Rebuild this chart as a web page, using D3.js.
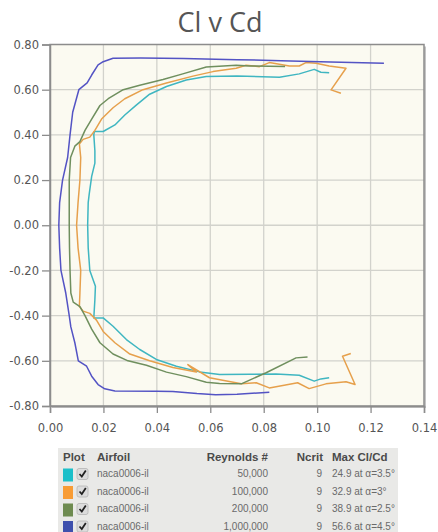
<!DOCTYPE html>
<html lang="en">
  <head>
    <meta charset="utf-8" />
    <style>
      body { margin: 0; background: #fff; }
      svg { display: block; }
    </style>
    <script src="https://d3js.org/d3.v7.min.js"></script>
  </head>
  <body>
    <svg width="438" height="532"></svg>
    <script>
      // polars, each listed from the negative-alpha tail round to the positive one
      const re50k = [
        [0.1045, -0.675], [0.1014, -0.68], [0.0989, -0.69], [0.0933, -0.664], [0.0846, -0.658],
        [0.075, -0.66], [0.0635, -0.661], [0.056, -0.649], [0.0473, -0.624], [0.0398, -0.594],
        [0.0336, -0.55], [0.0286, -0.506], [0.0236, -0.447], [0.0199, -0.41], [0.0164, -0.41],
        [0.0168, -0.33], [0.017, -0.27], [0.0149, -0.2], [0.0143, -0.1], [0.0141, 0],
        [0.0143, 0.1], [0.0147, 0.14], [0.0156, 0.216], [0.0168, 0.275], [0.0168, 0.33],
        [0.0164, 0.4], [0.0166, 0.415], [0.0199, 0.415], [0.0243, 0.444], [0.028, 0.488],
        [0.0324, 0.533], [0.0373, 0.58], [0.0436, 0.614], [0.051, 0.643], [0.0585, 0.658],
        [0.07, 0.661], [0.0859, 0.655], [0.0933, 0.67], [0.0989, 0.69], [0.1014, 0.677], [0.1045, 0.675]
      ];
      const re100k = [
        [0.1126, -0.568], [0.1095, -0.58], [0.1142, -0.705], [0.1108, -0.693], [0.1033, -0.702],
        [0.097, -0.723], [0.0927, -0.697], [0.0821, -0.72], [0.0772, -0.697], [0.0716, -0.702],
        [0.0597, -0.675], [0.0516, -0.617], [0.0548, -0.65], [0.046, -0.63], [0.0373, -0.6],
        [0.0299, -0.57], [0.0243, -0.52], [0.0199, -0.47], [0.0174, -0.42], [0.0149, -0.39],
        [0.0124, -0.38], [0.011, -0.36], [0.0112, -0.3], [0.0115, -0.2], [0.0105, -0.1], [0.00995, 0],
        [0.0105, 0.1], [0.0112, 0.2], [0.0115, 0.3], [0.011, 0.36], [0.0124, 0.38], [0.0149, 0.39],
        [0.0168, 0.42], [0.0193, 0.47], [0.0236, 0.52], [0.028, 0.56], [0.0348, 0.6], [0.0436, 0.63],
        [0.0535, 0.66], [0.061, 0.68], [0.0697, 0.695], [0.0734, 0.708], [0.0784, 0.702], [0.0821, 0.72],
        [0.0896, 0.705], [0.0933, 0.705], [0.0958, 0.72], [0.0996, 0.717], [0.1045, 0.705],
        [0.1108, 0.695], [0.1052, 0.599], [0.1089, 0.584]
      ];
      const re200k = [
        [0.0964, -0.583], [0.0921, -0.587], [0.0809, -0.653], [0.0716, -0.702], [0.0635, -0.7],
        [0.0585, -0.695], [0.051, -0.67], [0.0436, -0.65], [0.0361, -0.62], [0.0292, -0.6],
        [0.0236, -0.57], [0.0187, -0.52], [0.0156, -0.46], [0.0131, -0.4], [0.0112, -0.36],
        [0.0087, -0.34], [0.0078, -0.3], [0.0075, -0.2], [0.0073, -0.1], [0.0072, 0],
        [0.0072, 0.1], [0.0072, 0.2], [0.0077, 0.3], [0.0093, 0.35], [0.0112, 0.37], [0.0131, 0.42],
        [0.0156, 0.47], [0.0187, 0.53], [0.0218, 0.56], [0.0274, 0.6], [0.0336, 0.62], [0.0423, 0.645],
        [0.0497, 0.67], [0.0585, 0.7], [0.0697, 0.708], [0.0747, 0.705], [0.088, 0.703]
      ];
      const re1m = [
        [0.0821, -0.739], [0.07, -0.748], [0.062, -0.75], [0.055, -0.745], [0.046, -0.736],
        [0.04, -0.735], [0.0243, -0.734], [0.0205, -0.724], [0.018, -0.705], [0.0156, -0.668],
        [0.0137, -0.624], [0.0106, -0.6], [0.0093, -0.52], [0.0078, -0.45], [0.0072, -0.4],
        [0.0059, -0.3], [0.0041, -0.2], [0.0036, -0.1], [0.0033, 0],
        [0.0036, 0.1], [0.0047, 0.2], [0.0066, 0.3], [0.0075, 0.4], [0.0085, 0.5], [0.0108, 0.6],
        [0.0139, 0.63], [0.0156, 0.665], [0.018, 0.71], [0.0199, 0.724], [0.0236, 0.739],
        [0.034, 0.74], [0.05, 0.738], [0.07, 0.733], [0.09, 0.727], [0.105, 0.722], [0.125, 0.717]
      ];

      const airfoils = ["naca0006-il", "naca0006-il", "naca0006-il", "naca0006-il"];
      const reynolds = ["50,000", "100,000", "200,000", "1,000,000"];
      const ncrit = [9, 9, 9, 9];
      const maxClCd = ["24.9 at α=3.5°", "32.9 at α=3°", "38.9 at α=2.5°", "56.6 at α=4.5°"];
      const lineColors = ["#3fb6c1", "#e6a04c", "#6f8f5e", "#5353c4"];
      const swatchColors = ["#1cbfc9", "#f89c35", "#6e8b50", "#3e50ad"];

      const xTicks = [0, 0.02, 0.04, 0.06, 0.08, 0.1, 0.12, 0.14];
      const yTicks = [-0.8, -0.6, -0.4, -0.2, 0, 0.2, 0.4, 0.6, 0.8];

      const series = [re50k, re100k, re200k, re1m];

      const svg = d3.select("svg");
      const plotLeft = 50, plotRight = 424, plotTop = 44.5, plotBottom = 406;

      const x = d3.scaleLinear().domain([0, 0.14]).range([plotLeft, plotRight]);
      const y = d3.scaleLinear().domain([-0.8, 0.8]).range([plotBottom, plotTop]);
      const fmt = d => (Math.abs(d) < 1e-9 ? 0 : d).toFixed(2);

      svg.append("text")
        .attr("x", 220)
        .attr("y", 32)
        .attr("text-anchor", "middle")
        .attr("font-family", "'Open Sans', sans-serif")
        .attr("font-size", 27)
        .attr("fill", "#555")
        .text("Cl v Cd");

      // plot background with a soft shadow
      svg.append("rect")
        .attr("x", plotLeft + 2).attr("y", plotTop + 2)
        .attr("width", plotRight - plotLeft).attr("height", plotBottom - plotTop)
        .attr("fill", "#c4c4c4");
      svg.append("rect")
        .attr("x", plotLeft).attr("y", plotTop)
        .attr("width", plotRight - plotLeft).attr("height", plotBottom - plotTop)
        .attr("fill", "#fbfaf1");

      const grid = svg.append("g").attr("stroke", "#d2d2cc").attr("stroke-width", 1.3);
      grid.selectAll(".gx").data(xTicks.slice(1, -1)).enter().append("line")
        .attr("x1", d => x(d)).attr("x2", d => x(d))
        .attr("y1", plotTop).attr("y2", plotBottom);
      grid.selectAll(".gy").data(yTicks.slice(1, -1)).enter().append("line")
        .attr("y1", d => y(d)).attr("y2", d => y(d))
        .attr("x1", plotLeft).attr("x2", plotRight);

      const line = d3.line().x(d => x(d[0])).y(d => y(d[1]));

      svg.append("g").selectAll("path").data(series).enter().append("path")
        .attr("d", line)
        .attr("fill", "none")
        .attr("stroke", (d, i) => lineColors[i])
        .attr("stroke-width", 1.5)
        .attr("stroke-linejoin", "round");

      svg.append("rect")
        .attr("x", plotLeft).attr("y", plotTop)
        .attr("width", plotRight - plotLeft).attr("height", plotBottom - plotTop)
        .attr("fill", "none")
        .attr("stroke", "#8c8c8c")
        .attr("stroke-width", 1.5);

      const xAxis = svg.append("g")
        .attr("transform", "translate(0," + plotBottom + ")")
        .call(d3.axisBottom(x).tickValues(xTicks).tickFormat(fmt).tickSize(7));
      const yAxis = svg.append("g")
        .attr("transform", "translate(" + plotLeft + ",0)")
        .call(d3.axisLeft(y).tickValues(yTicks).tickFormat(fmt).tickSize(8));

      [xAxis, yAxis].forEach(function (a) {
        a.select(".domain").attr("stroke", "#8c8c8c").attr("stroke-width", 1.5);
        a.selectAll(".tick line").attr("stroke", "#8c8c8c").attr("stroke-width", 1.3);
        a.selectAll("text")
          .attr("fill", "#555")
          .attr("font-family", "'DejaVu Sans', Verdana, sans-serif")
          .attr("font-size", 11.5);
      });
      xAxis.selectAll("text").attr("dy", "1.35em");
      yAxis.selectAll("text").attr("x", -11);

      // legend table
      const legend = svg.append("g");
      legend.append("rect")
        .attr("x", 58).attr("y", 448)
        .attr("width", 340).attr("height", 90)
        .attr("fill", "#e9e9e7");

      const head = legend.append("g")
        .attr("font-family", "'Liberation Sans', Arial, sans-serif")
        .attr("font-weight", "bold")
        .attr("font-size", 11.5)
        .attr("fill", "#4a4a4a");
      head.append("text").attr("x", 63).attr("y", 461).text("Plot");
      head.append("text").attr("x", 97).attr("y", 461).text("Airfoil");
      head.append("text").attr("x", 268).attr("y", 461).attr("text-anchor", "end").text("Reynolds #");
      head.append("text").attr("x", 323).attr("y", 461).attr("text-anchor", "end").text("Ncrit");
      head.append("text").attr("x", 332).attr("y", 461).text("Max Cl/Cd");

      const rowY = d3.scaleLinear().domain([0, 1]).range([473.5, 491]);
      const rows = legend.selectAll(".row").data(reynolds).enter().append("g")
        .attr("transform", (d, i) => "translate(0," + rowY(i) + ")")
        .attr("font-family", "'Liberation Sans', Arial, sans-serif")
        .attr("font-size", 10)
        .attr("fill", "#6a6a6a");

      rows.append("rect")
        .attr("x", 63).attr("y", -5).attr("width", 10).attr("height", 13)
        .attr("fill", (d, i) => swatchColors[i]);
      rows.append("rect")
        .attr("x", 77).attr("y", -5).attr("width", 11).attr("height", 11).attr("rx", 2)
        .attr("fill", "#dcdcdc").attr("stroke", "#b5b5b5").attr("stroke-width", 0.8);
      rows.append("path")
        .attr("d", "M79.5,0.5 L81.8,3 L85.8,-3")
        .attr("fill", "none").attr("stroke", "#222").attr("stroke-width", 1.8);
      rows.append("text").attr("x", 97).attr("y", 3.5).text((d, i) => airfoils[i]);
      rows.append("text").attr("x", 268).attr("y", 3.5).attr("text-anchor", "end").text(d => d);
      rows.append("text").attr("x", 322).attr("y", 3.5).attr("text-anchor", "end").text((d, i) => ncrit[i]);
      rows.append("text").attr("x", 332).attr("y", 3.5).text((d, i) => maxClCd[i]);
    </script>
  </body>
</html>
